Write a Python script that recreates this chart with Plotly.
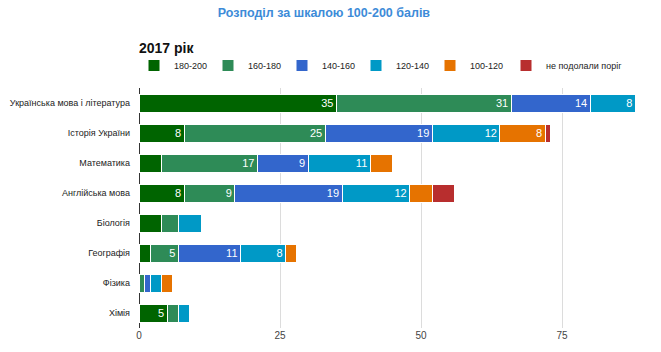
import plotly.graph_objects as go

subjects = ["Українська мова і література", "Історія України", "Математика",
            "Англійська мова", "Біологія", "Географія", "Фізика", "Хімія"]
series_names = ["180-200", "160-180", "140-160", "120-140", "100-120", "не подолали поріг"]
v_180_200 = [35, 8, 4, 8, 4, 2, 0, 5]
v_160_180 = [31, 25, 17, 9, 3, 5, 1, 2]
v_140_160 = [14, 19, 9, 19, 0, 11, 1, 0]
v_120_140 = [8, 12, 11, 12, 4, 8, 2, 2]
v_100_120 = [0, 8, 4, 4, 0, 2, 2, 0]
v_fail = [0, 1, 0, 4, 0, 0, 0, 0]
series_values = [v_180_200, v_160_180, v_140_160, v_120_140, v_100_120, v_fail]
colors = ["#006400", "#2e8b57", "#3366cc", "#0099c6", "#e67300", "#b82e2e"]
x_ticks = [0, 25, 50, 75]

FONT = "Liberation Sans, Arial, sans-serif"
W, H = 661, 352
L, R, T, B = 139, 0, 88, 24
PW, PH = W - L - R, H - T - B

fig = go.Figure()
n = len(series_names)
for i, (name, vals, col) in enumerate(zip(series_names, series_values, colors)):
    fig.add_trace(go.Bar(
        y=subjects, x=vals, name=name, orientation="h",
        marker=dict(color=col, line=dict(color="white", width=1)),
        text=[str(v) if v >= 5 else "" for v in vals],
        textposition="inside", insidetextanchor="end",
        textfont=dict(color="white", size=11, family=FONT),
        constraintext="none", textangle=0,
        hoverinfo="x+y+name",
        legend="legend2" if i == n - 1 else "legend",
    ))

legend_common = dict(orientation="h", xanchor="left", yref="paper", yanchor="top",
                     font=dict(size=9, color="#222", family=FONT),
                     traceorder="normal", itemwidth=30, bgcolor="rgba(0,0,0,0)")
legend_y = (H - B - 51) / PH

fig.update_layout(
    width=W, height=H,
    barmode="stack", bargap=0.4,
    margin=dict(l=L, r=R, t=T, b=B, autoexpand=False),
    paper_bgcolor="white", plot_bgcolor="white",
    font=dict(family=FONT, size=9, color="#222"),
    title=dict(text="<b>Розподіл за шкалою 100-200 балів</b>",
               x=0.49, xanchor="center", y=1 - 13 / H, yanchor="middle",
               font=dict(size=12.5, color="#3d8bd8", family=FONT)),
    legend=dict(x=(134 - L) / PW, y=legend_y, entrywidth=29,
                entrywidthmode="pixels", **legend_common),
    legend2=dict(x=(506 - L) / PW, y=legend_y, **legend_common),
    xaxis=dict(range=[0, 92.55], tickvals=x_ticks, showgrid=True, gridcolor="#dcdcdc",
               zeroline=True, zerolinecolor="#333", zerolinewidth=1,
               tickfont=dict(size=10, color="#444"), ticks="", fixedrange=True,
               automargin=False),
    yaxis=dict(autorange="reversed", tickfont=dict(size=9, color="#222"),
               ticks="", ticklabelstandoff=8, showline=False, automargin=False),
)
fig.add_annotation(text="<b>2017 рік</b>", xref="paper", yref="paper",
                   x=0, y=(H - B - 48) / PH, xanchor="left", yanchor="middle",
                   xshift=-2, showarrow=False,
                   font=dict(size=14, color="#111", family=FONT))
fig.write_html("out.html")
